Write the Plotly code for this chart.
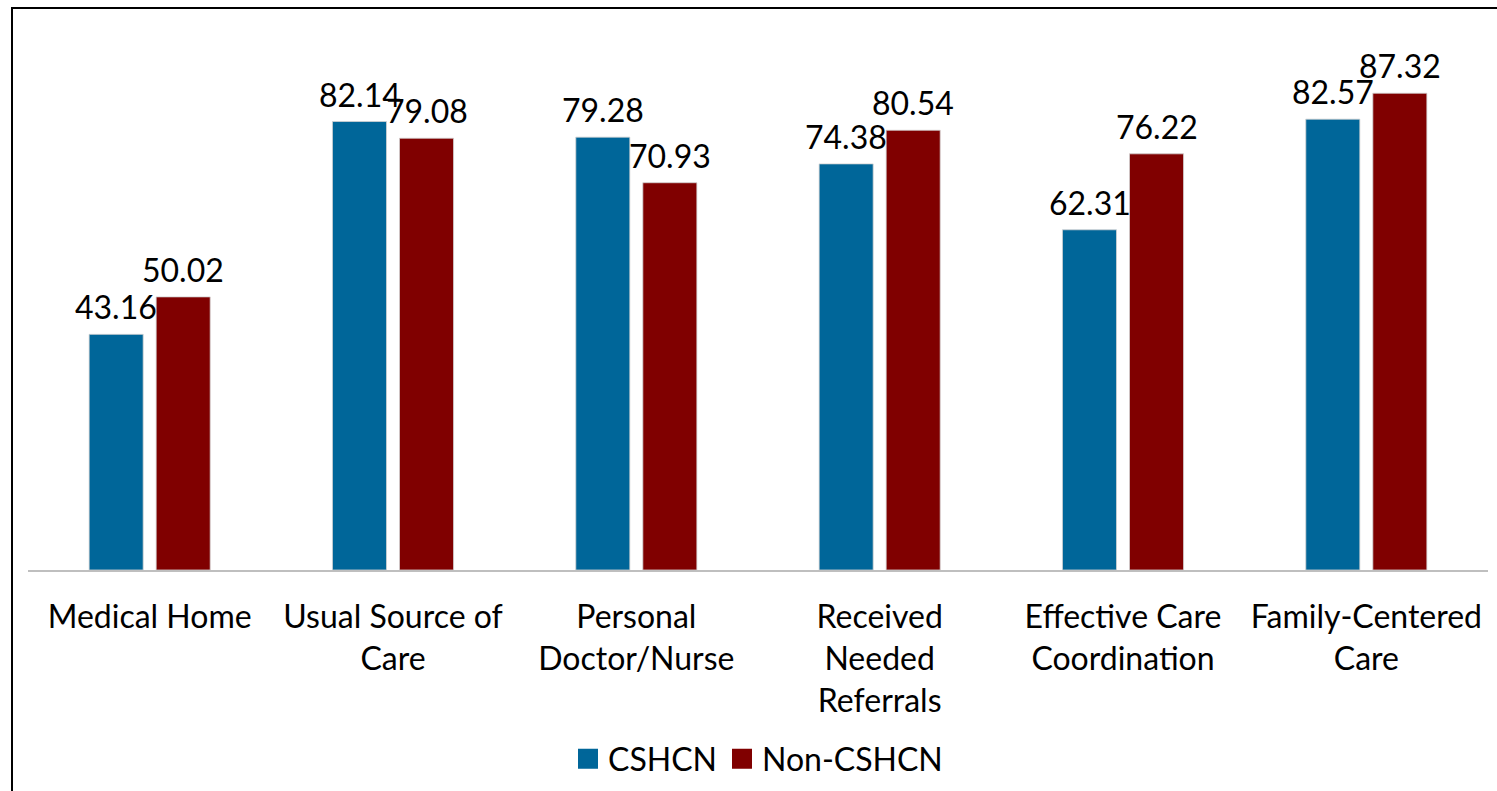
import plotly.graph_objects as go

categories = ["Medical Home", "Usual Source of<br>Care", "Personal<br>Doctor/Nurse",
              "Received<br>Needed<br>Referrals", "Effective Care<br>Coordination",
              "Family-Centered<br>Care"]
cshcn = [43.16, 82.14, 79.28, 74.38, 62.31, 82.57]
non_cshcn = [50.02, 79.08, 70.93, 80.54, 76.22, 87.32]
series_names = ["CSHCN", "Non-CSHCN"]
colors = ["#006699", "#800000"]

FONT = "Lato"
FS = 32
fig = go.Figure()
annotations = []
offsets = [-33.5, 33.5]
for name, vals, col, off in zip(series_names, [cshcn, non_cshcn], colors, offsets):
    fig.add_trace(go.Bar(
        x=categories, y=vals, name=name, legendgroup=name, showlegend=False,
        marker=dict(color=col, line=dict(color="rgba(210,210,210,0.8)", width=1)),
    ))
    # legend entry (larger square symbol)
    fig.add_trace(go.Scatter(
        x=[None], y=[None], name=name, legendgroup=name, mode="markers",
        marker=dict(symbol="square", size=16, color=col, line=dict(color=col, width=4)),
    ))
    for c, v in zip(categories, vals):
        annotations.append(dict(x=c, y=v, xref="x", yref="y", text=f"{v:.2f}",
                                showarrow=False, xshift=off, yanchor="bottom", yshift=6,
                                font=dict(family=FONT, size=FS, color="black")))

fig.update_layout(
    width=1497, height=791,
    margin=dict(l=28, r=9, t=24, b=221, autoexpand=False),
    paper_bgcolor="white", plot_bgcolor="white",
    barmode="group", bargap=0.449, bargroupgap=0.194,
    font=dict(family=FONT, size=FS, color="black"),
    showlegend=True,
    legend=dict(orientation="h", x=0.5, xanchor="center",
                yref="container", y=(791 - 759) / 791, yanchor="middle",
                font=dict(family=FONT, size=FS, color="black")),
    xaxis=dict(showline=True, linecolor="#bfbfbf", linewidth=2, ticks="",
               tickfont=dict(family=FONT, size=FS, color="black"), ticklabelstandoff=18),
    yaxis=dict(range=[0, 100], visible=False, showgrid=False, zeroline=False),
    annotations=annotations,
    shapes=[dict(type="rect", xref="paper", yref="paper",
                 x0=(12 - 28) / 1460, x1=1.2, y0=-0.6, y1=(569.7 - 8) / 545.6,
                 line=dict(color="black", width=2), fillcolor="rgba(0,0,0,0)", layer="above")],
)

fig.write_html("out.html", config={"displayModeBar": False},
               post_script="document.body.style.margin='0';")
